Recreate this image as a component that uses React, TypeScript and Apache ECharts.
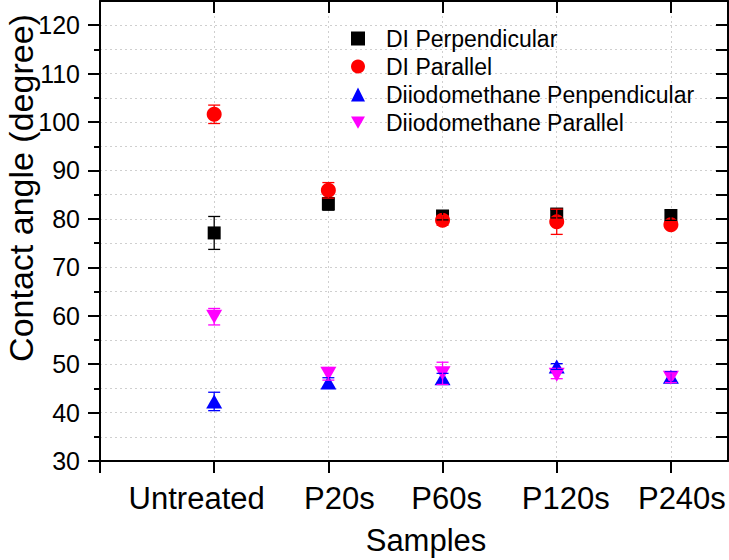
import React, { useEffect, useRef } from "react";
import * as echarts from "echarts";

const categories = ["Untreated", "P20s", "P60s", "P120s", "P240s"];
const diPerp = [77.1, 83.1, 80.6, 81.0, 80.7];
const diPerpErr = [3.4, 1.3, 0.8, 0.8, 1.0];
const diPar = [101.6, 85.9, 79.7, 79.4, 78.8];
const diParErr = [1.9, 1.6, 1.0, 2.6, 0.5];
const diioPerp = [42.3, 46.2, 47.1, 49.5, 47.4];
const diioPerpErr = [1.9, 1.0, 1.0, 0.6, 1.0];
const diioPar = [59.8, 48.0, 48.1, 47.8, 47.2];
const diioParErr = [1.7, 1.3, 2.3, 0.8, 1.0];
const yMajor = [30, 40, 50, 60, 70, 80, 90, 100, 110, 120];
const yMinor = [35, 45, 55, 65, 75, 85, 95, 105, 115];
const yAll = [35, 40, 45, 50, 55, 60, 65, 70, 75, 80, 85, 90, 95, 100, 105, 110, 115, 120];

const FONT = "Liberation Sans, Arial, sans-serif";
const INV_TRI = "path://M0,0 L20,0 L10,17.5 Z";

// horizontal label nudges (style only)
const labelPads = [
  [0, 35, 0, 0],
  [0, 0, 0, 22],
  [0, 0, 0, 8],
  [0, 0, 0, 18],
  [0, 0, 0, 22],
];

const seriesDefs = [
  { name: "DI Perpendicular", vals: diPerp, err: diPerpErr, color: "#000000", symbol: "rect", size: [13, 13] },
  { name: "DI Parallel", vals: diPar, err: diParErr, color: "#ff0000", symbol: "circle", size: 15 },
  { name: "Diiodomethane Penpendicular", vals: diioPerp, err: diioPerpErr, color: "#0000ff", symbol: "triangle", size: [16, 14] },
  { name: "Diiodomethane Parallel", vals: diioPar, err: diioParErr, color: "#ff00ff", symbol: INV_TRI, size: [16, 14] },
];

const gridLine = { show: true, lineStyle: { color: "#cfcfcf", type: [2, 3] as any, width: 1 } };

export default function App() {
  const ref = useRef<HTMLDivElement>(null);
  useEffect(() => {
    if (!ref.current) return;
    const chart = echarts.init(ref.current, null, { renderer: "svg" });
    const scatter = seriesDefs.map((s) => ({
      type: "scatter",
      name: s.name,
      xAxisIndex: 0,
      yAxisIndex: 0,
      symbol: s.symbol,
      symbolSize: s.size,
      itemStyle: { color: s.color, opacity: 1 },
      z: 3,
      data: s.vals.map((v, i) => [i + 1, v]),
    }));
    const errors = seriesDefs.map((s) => ({
      type: "custom",
      name: s.name + " err",
      xAxisIndex: 0,
      yAxisIndex: 0,
      z: 4,
      encode: { x: 0, y: [1, 2] },
      data: s.vals.map((v, i) => [i + 1, v - s.err[i], v + s.err[i]]),
      renderItem: (params: any, api: any) => {
        const x = api.value(0);
        const lo = api.coord([x, api.value(1)]);
        const hi = api.coord([x, api.value(2)]);
        const h = 6;
        const st = { stroke: s.color, lineWidth: 1.3 };
        return {
          type: "group",
          children: [
            { type: "line", shape: { x1: hi[0], y1: hi[1], x2: lo[0], y2: lo[1] }, style: st },
            { type: "line", shape: { x1: hi[0] - h, y1: hi[1], x2: hi[0] + h, y2: hi[1] }, style: st },
            { type: "line", shape: { x1: lo[0] - h, y1: lo[1], x2: lo[0] + h, y2: lo[1] }, style: st },
          ],
        };
      },
    }));
    const axisLine = { show: true, onZero: false, lineStyle: { color: "#000", width: 2 } };
    const rich: any = {};
    labelPads.forEach((p, i) => {
      rich["c" + i] = { fontSize: 31, fontFamily: FONT, color: "#000", padding: p };
    });
    chart.setOption({
      animation: false,
      backgroundColor: "#ffffff",
      grid: { left: 100, right: 1, top: 1, bottom: 99, containLabel: false, outerBoundsMode: "none" },
      legend: {
        orient: "vertical",
        left: 346,
        top: 22,
        itemWidth: 14,
        itemHeight: 14,
        itemGap: 5,
        data: seriesDefs.map((s) => s.name),
        textStyle: { fontSize: 23, fontFamily: FONT, color: "#000", lineHeight: 23, padding: [0, 0, 0, 16] },
      },
      xAxis: [
        {
          type: "value",
          position: "bottom",
          min: 0,
          max: 5.5,
          interval: 1,
          axisLine,
          axisTick: { show: true, inside: false, length: 12, lineStyle: { color: "#000", width: 2 }, customValues: [0, 1, 2, 3, 4, 5] },
          axisLabel: {
            show: true,
            customValues: [1, 2, 3, 4, 5],
            formatter: (v: number) => {
              const i = Math.round(v) - 1;
              return categories[i] !== undefined ? `{c${i}|${categories[i]}}` : "";
            },
            rich,
            fontSize: 31,
            fontFamily: FONT,
            color: "#000",
            margin: 22,
          },
          splitLine: gridLine,
          name: "Samples",
          nameLocation: "middle",
          nameGap: 64,
          nameMoveOverlap: false,
          nameTextStyle: { fontSize: 31, fontFamily: FONT, color: "#000", padding: [0, 0, 0, 24] },
        },
        {
          type: "value",
          position: "top",
          min: 0,
          max: 5.5,
          interval: 1,
          axisLine,
          axisTick: { show: true, inside: true, length: 12, lineStyle: { color: "#000", width: 2 }, customValues: [1, 2, 3, 4, 5] },
          axisLabel: { show: false },
          splitLine: { show: false },
        },
      ],
      yAxis: [
        {
          type: "value",
          position: "left",
          min: 30,
          max: 125,
          interval: 10,
          axisLine,
          axisTick: { show: true, inside: false, length: 12, lineStyle: { color: "#000", width: 2 }, customValues: yMajor },
          axisLabel: {
            show: true,
            customValues: yMajor,
            fontSize: 25,
            fontFamily: FONT,
            color: "#000",
            margin: 20,
          },
          splitLine: { show: false },
          name: "Contact angle (degree)",
          nameLocation: "middle",
          nameGap: 62,
          nameMoveOverlap: false,
          nameTextStyle: { fontSize: 34, fontFamily: FONT, color: "#000", padding: [0, 0, 0, 86] },
        },
        {
          type: "value",
          position: "left",
          min: 30,
          max: 125,
          interval: 5,
          axisLine: { show: false },
          axisTick: { show: true, inside: false, length: 6, lineStyle: { color: "#000", width: 2 }, customValues: yMinor },
          axisLabel: { show: false },
          splitLine: { show: false },
        },
        {
          type: "value",
          position: "right",
          min: 30,
          max: 125,
          interval: 5,
          axisLine,
          axisTick: { show: true, inside: true, length: 12, lineStyle: { color: "#000", width: 2 }, customValues: yAll },
          axisLabel: { show: false },
          splitLine: gridLine,
        },
      ],
      series: [...scatter, ...errors],
    });
    return () => chart.dispose();
  }, []);
  return <div ref={ref} style={{ width: 729, height: 560, position: "absolute", left: 0, top: 0 }} />;
}
